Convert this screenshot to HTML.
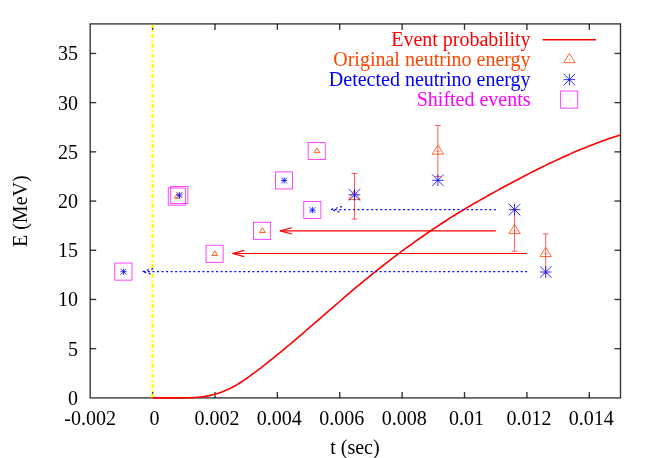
<!DOCTYPE html>
<html><head><meta charset="utf-8"><title>plot</title>
<style>html,body{margin:0;padding:0;background:#fff;}body{width:654px;height:458px;overflow:hidden;font-family:"Liberation Serif",serif;}</style>
</head><body>
<svg width="654" height="458" viewBox="0 0 654 458" style="display:block;will-change:transform">
<rect width="654" height="458" fill="#fff"/>
<g stroke="#000" stroke-width="1.4" fill="none" stroke-opacity="0.78">
<rect x="90.2" y="23.9" width="530.3" height="374.0"/>
<line x1="90.2" y1="348.69" x2="96.2" y2="348.69"/>
<line x1="620.5" y1="348.69" x2="614.5" y2="348.69"/>
<line x1="90.2" y1="299.48" x2="96.2" y2="299.48"/>
<line x1="620.5" y1="299.48" x2="614.5" y2="299.48"/>
<line x1="90.2" y1="250.27" x2="96.2" y2="250.27"/>
<line x1="620.5" y1="250.27" x2="614.5" y2="250.27"/>
<line x1="90.2" y1="201.06" x2="96.2" y2="201.06"/>
<line x1="620.5" y1="201.06" x2="614.5" y2="201.06"/>
<line x1="90.2" y1="151.85" x2="96.2" y2="151.85"/>
<line x1="620.5" y1="151.85" x2="614.5" y2="151.85"/>
<line x1="90.2" y1="102.64" x2="96.2" y2="102.64"/>
<line x1="620.5" y1="102.64" x2="614.5" y2="102.64"/>
<line x1="90.2" y1="53.43" x2="96.2" y2="53.43"/>
<line x1="620.5" y1="53.43" x2="614.5" y2="53.43"/>
<line x1="152.59" y1="397.9" x2="152.59" y2="391.9"/>
<line x1="152.59" y1="23.9" x2="152.59" y2="29.9"/>
<line x1="214.98" y1="397.9" x2="214.98" y2="391.9"/>
<line x1="214.98" y1="23.9" x2="214.98" y2="29.9"/>
<line x1="277.36" y1="397.9" x2="277.36" y2="391.9"/>
<line x1="277.36" y1="23.9" x2="277.36" y2="29.9"/>
<line x1="339.75" y1="397.9" x2="339.75" y2="391.9"/>
<line x1="339.75" y1="23.9" x2="339.75" y2="29.9"/>
<line x1="402.14" y1="397.9" x2="402.14" y2="391.9"/>
<line x1="402.14" y1="23.9" x2="402.14" y2="29.9"/>
<line x1="464.53" y1="397.9" x2="464.53" y2="391.9"/>
<line x1="464.53" y1="23.9" x2="464.53" y2="29.9"/>
<line x1="526.92" y1="397.9" x2="526.92" y2="391.9"/>
<line x1="526.92" y1="23.9" x2="526.92" y2="29.9"/>
<line x1="589.31" y1="397.9" x2="589.31" y2="391.9"/>
<line x1="589.31" y1="23.9" x2="589.31" y2="29.9"/>
</g>
<line x1="152.64" y1="24.6" x2="152.64" y2="398.4" stroke="#ffff00" stroke-width="2.45" stroke-dasharray="4.0 2.7 1.2 2.1" stroke-dashoffset="0.8"/>
<g font-family="'Liberation Serif', serif" font-size="20" fill="#000">
<text x="77.9" y="404.90" text-anchor="end">0</text>
<text x="77.9" y="355.69" text-anchor="end">5</text>
<text x="77.9" y="306.48" text-anchor="end">10</text>
<text x="77.9" y="257.27" text-anchor="end">15</text>
<text x="77.9" y="208.06" text-anchor="end">20</text>
<text x="77.9" y="158.85" text-anchor="end">25</text>
<text x="77.9" y="109.64" text-anchor="end">30</text>
<text x="77.9" y="60.43" text-anchor="end">35</text>
<text x="90.20" y="424.5" text-anchor="middle">-0.002</text>
<text x="154.59" y="424.5" text-anchor="middle">0</text>
<text x="216.98" y="424.5" text-anchor="middle">0.002</text>
<text x="279.36" y="424.5" text-anchor="middle">0.004</text>
<text x="341.75" y="424.5" text-anchor="middle">0.006</text>
<text x="404.14" y="424.5" text-anchor="middle">0.008</text>
<text x="466.53" y="424.5" text-anchor="middle">0.01</text>
<text x="528.92" y="424.5" text-anchor="middle">0.012</text>
<text x="591.31" y="424.5" text-anchor="middle">0.014</text>
<text x="354.9" y="454.3" text-anchor="middle">t (sec)</text>
<text transform="translate(26.8,211.2) rotate(-90)" text-anchor="middle">E (MeV)</text>
<text x="530.6" y="46.4" text-anchor="end" fill="#ff0000">Event probability</text>
<text x="530.6" y="66.4" text-anchor="end" fill="#ff4500">Original neutrino energy</text>
<text x="530.6" y="86.4" text-anchor="end" fill="#0000ff">Detected neutrino energy</text>
<text x="530.6" y="106.4" text-anchor="end" fill="#ff00ff">Shifted events</text>
</g>
<line x1="542.6" y1="39.7" x2="596" y2="39.7" stroke="#ff0000" stroke-width="1.45"/>
<path d="M569.40,53.42 L563.70,62.65 L575.10,62.65 Z" stroke="#ff4500" stroke-width="0.8" fill="none"/><circle cx="569.40" cy="59.80" r="0.5" fill="#ff4500" fill-opacity="0.8"/>
<path d="M563.60,73.80 L575.20,85.40 M563.60,85.40 L575.20,73.80 M569.40,73.80 L569.40,85.40 M563.60,79.60 L575.20,79.60" stroke="#0000ff" stroke-width="0.8" fill="none"/>
<rect x="560.65" y="91.05" width="17.10" height="17.10" stroke="#ff00ff" stroke-width="0.85" fill="none" stroke-opacity="0.85"/><circle cx="569.20" cy="99.60" r="0.45" fill="#ff00ff" fill-opacity="0.7"/>
<path d="M152.40,397.90 L154.75,397.90 L157.10,397.90 L159.45,397.90 L161.81,397.90 L164.16,397.90 L166.51,397.90 L168.86,397.90 L171.21,397.90 L173.56,397.90 L175.91,397.90 L178.26,397.90 L180.62,397.90 L182.97,397.87 L185.32,397.84 L187.67,397.79 L190.02,397.72 L192.37,397.62 L194.72,397.48 L197.07,397.31 L199.43,397.10 L201.78,396.83 L204.13,396.50 L206.48,396.12 L208.83,395.67 L211.18,395.15 L213.53,394.57 L215.88,393.92 L218.24,393.20 L220.59,392.40 L222.94,391.53 L225.29,390.59 L227.64,389.57 L229.99,388.46 L232.34,387.28 L234.69,386.02 L237.05,384.67 L239.40,383.24 L241.75,381.73 L244.10,380.16 L246.45,378.53 L248.80,376.85 L251.15,375.13 L253.50,373.39 L255.86,371.62 L258.21,369.84 L260.56,368.04 L262.91,366.22 L265.26,364.38 L267.61,362.53 L269.96,360.66 L272.31,358.78 L274.67,356.89 L277.02,354.98 L279.37,353.05 L281.72,351.12 L284.07,349.17 L286.42,347.22 L288.77,345.25 L291.12,343.27 L293.48,341.29 L295.83,339.30 L298.18,337.30 L300.53,335.29 L302.88,333.27 L305.23,331.25 L307.58,329.23 L309.93,327.20 L312.29,325.17 L314.64,323.13 L316.99,321.10 L319.34,319.06 L321.69,317.02 L324.04,314.98 L326.39,312.93 L328.74,310.90 L331.10,308.86 L333.45,306.82 L335.80,304.79 L338.15,302.76 L340.50,300.74 L342.85,298.72 L345.20,296.70 L347.55,294.69 L349.91,292.69 L352.26,290.70 L354.61,288.71 L356.96,286.74 L359.31,284.77 L361.66,282.81 L364.01,280.87 L366.36,278.93 L368.72,277.01 L371.07,275.10 L373.42,273.20 L375.77,271.32 L378.12,269.45 L380.47,267.59 L382.82,265.74 L385.17,263.91 L387.53,262.09 L389.88,260.28 L392.23,258.48 L394.58,256.70 L396.93,254.93 L399.28,253.17 L401.63,251.43 L403.98,249.69 L406.34,247.97 L408.69,246.26 L411.04,244.56 L413.39,242.87 L415.74,241.20 L418.09,239.53 L420.44,237.88 L422.79,236.24 L425.15,234.61 L427.50,232.99 L429.85,231.38 L432.20,229.78 L434.55,228.20 L436.90,226.62 L439.25,225.06 L441.60,223.51 L443.96,221.97 L446.31,220.45 L448.66,218.94 L451.01,217.44 L453.36,215.96 L455.71,214.49 L458.06,213.04 L460.41,211.61 L462.77,210.19 L465.12,208.78 L467.47,207.39 L469.82,206.00 L472.17,204.63 L474.52,203.27 L476.87,201.93 L479.22,200.59 L481.58,199.25 L483.93,197.93 L486.28,196.62 L488.63,195.31 L490.98,194.00 L493.33,192.70 L495.68,191.41 L498.03,190.11 L500.39,188.83 L502.74,187.55 L505.09,186.27 L507.44,185.00 L509.79,183.74 L512.14,182.48 L514.49,181.23 L516.84,179.98 L519.20,178.74 L521.55,177.51 L523.90,176.29 L526.25,175.07 L528.60,173.86 L530.95,172.65 L533.30,171.46 L535.65,170.27 L538.01,169.10 L540.36,167.93 L542.71,166.77 L545.06,165.62 L547.41,164.48 L549.76,163.34 L552.11,162.22 L554.46,161.11 L556.82,160.01 L559.17,158.92 L561.52,157.84 L563.87,156.77 L566.22,155.71 L568.57,154.66 L570.92,153.63 L573.27,152.60 L575.63,151.59 L577.98,150.60 L580.33,149.61 L582.68,148.64 L585.03,147.68 L587.38,146.73 L589.73,145.80 L592.08,144.88 L594.44,143.97 L596.79,143.08 L599.14,142.20 L601.49,141.34 L603.84,140.49 L606.19,139.66 L608.54,138.84 L610.89,138.04 L613.25,137.26 L615.60,136.49 L617.95,135.74 L620.30,135.00" stroke="#ff0000" stroke-width="1.62" fill="none" stroke-linejoin="round"/>
<path d="M495.80,230.90 L280.20,230.90" stroke="#ff0000" stroke-width="1.15" fill="none"/><path d="M291.90,227.80 L280.20,230.90 L291.90,234.00" stroke="#ff0000" stroke-width="1.15" fill="none" stroke-linejoin="round"/>
<path d="M526.90,253.50 L232.50,253.50" stroke="#ff0000" stroke-width="1.15" fill="none"/><path d="M244.20,250.40 L232.50,253.50 L244.20,256.60" stroke="#ff0000" stroke-width="1.15" fill="none" stroke-linejoin="round"/>
<path d="M495.85,209.55 L331.05,209.55" stroke="#0000ff" stroke-width="1.25" fill="none" stroke-dasharray="1.95 2.595" stroke-dashoffset="0"/><path d="M342.05,206.55 L331.05,209.55 L342.05,212.55" stroke="#0000ff" stroke-width="1.25" fill="none" stroke-dasharray="1.95 2.595"/>
<path d="M527.10,271.60 L142.20,271.60" stroke="#0000ff" stroke-width="1.25" fill="none" stroke-dasharray="1.95 2.595" stroke-dashoffset="0"/><path d="M153.20,268.60 L142.20,271.60 L153.20,274.60" stroke="#0000ff" stroke-width="1.25" fill="none" stroke-dasharray="1.95 2.595"/>
<rect x="168.25" y="188.05" width="17.10" height="17.10" stroke="#ff00ff" stroke-width="0.85" fill="none" stroke-opacity="0.85"/>
<path d="M177.05,193.60 L174.15,198.30 L179.95,198.30 Z" stroke="#ff4500" stroke-width="0.85" fill="none"/><circle cx="177.05" cy="196.80" r="0.45" fill="#ff4500" fill-opacity="0.35"/>
<rect x="170.75" y="186.45" width="17.10" height="17.10" stroke="#ff00ff" stroke-width="0.85" fill="none" stroke-opacity="0.85"/>
<path d="M176.55,192.20 L182.35,198.00 M176.55,198.00 L182.35,192.20 M179.45,192.00 L179.45,198.20 M176.35,195.10 L182.55,195.10" stroke="#0000ff" stroke-width="0.8" fill="none"/>
<rect x="114.85" y="263.05" width="17.10" height="17.10" stroke="#ff00ff" stroke-width="0.85" fill="none" stroke-opacity="0.85"/>
<path d="M120.65,268.80 L126.45,274.60 M120.65,274.60 L126.45,268.80 M123.55,268.60 L123.55,274.80 M120.45,271.70 L126.65,271.70" stroke="#0000ff" stroke-width="0.8" fill="none"/>
<rect x="206.05" y="245.25" width="17.10" height="17.10" stroke="#ff00ff" stroke-width="0.85" fill="none" stroke-opacity="0.85"/>
<path d="M214.85,250.80 L211.95,255.50 L217.75,255.50 Z" stroke="#ff4500" stroke-width="0.85" fill="none"/><circle cx="214.85" cy="254.00" r="0.45" fill="#ff4500" fill-opacity="0.35"/>
<rect x="253.55" y="222.25" width="17.10" height="17.10" stroke="#ff00ff" stroke-width="0.85" fill="none" stroke-opacity="0.85"/>
<path d="M262.35,227.80 L259.45,232.50 L265.25,232.50 Z" stroke="#ff4500" stroke-width="0.85" fill="none"/><circle cx="262.35" cy="231.00" r="0.45" fill="#ff4500" fill-opacity="0.35"/>
<rect x="275.45" y="171.85" width="17.10" height="17.10" stroke="#ff00ff" stroke-width="0.85" fill="none" stroke-opacity="0.85"/>
<path d="M281.25,177.60 L287.05,183.40 M281.25,183.40 L287.05,177.60 M284.15,177.40 L284.15,183.60 M281.05,180.50 L287.25,180.50" stroke="#0000ff" stroke-width="0.8" fill="none"/>
<rect x="303.75" y="201.45" width="17.10" height="17.10" stroke="#ff00ff" stroke-width="0.85" fill="none" stroke-opacity="0.85"/>
<path d="M309.55,207.20 L315.35,213.00 M309.55,213.00 L315.35,207.20 M312.45,207.00 L312.45,213.20 M309.35,210.10 L315.55,210.10" stroke="#0000ff" stroke-width="0.8" fill="none"/>
<rect x="308.15" y="142.45" width="17.10" height="17.10" stroke="#ff00ff" stroke-width="0.85" fill="none" stroke-opacity="0.85"/>
<path d="M316.95,148.00 L314.05,152.70 L319.85,152.70 Z" stroke="#ff4500" stroke-width="0.85" fill="none"/><circle cx="316.95" cy="151.20" r="0.45" fill="#ff4500" fill-opacity="0.35"/>
<path d="M354.50,219.10 L354.50,173.40 M351.55,219.10 L357.45,219.10 M351.55,173.40 L357.45,173.40" stroke="#ff0000" stroke-width="0.8" fill="none" stroke-opacity="0.8"/><path d="M351.80,196.70 L357.20,196.70" stroke="#ff0000" stroke-width="0.8" fill="none" stroke-opacity="0.4"/>
<path d="M437.90,176.60 L437.90,125.40 M434.95,176.60 L440.85,176.60 M434.95,125.40 L440.85,125.40" stroke="#ff0000" stroke-width="0.8" fill="none" stroke-opacity="0.8"/><path d="M435.20,151.30 L440.60,151.30" stroke="#ff0000" stroke-width="0.8" fill="none" stroke-opacity="0.4"/>
<path d="M514.60,251.20 L514.60,209.60 M511.65,251.20 L517.55,251.20 M511.65,209.60 L517.55,209.60" stroke="#ff0000" stroke-width="0.8" fill="none" stroke-opacity="0.8"/><path d="M511.90,230.80 L517.30,230.80" stroke="#ff0000" stroke-width="0.8" fill="none" stroke-opacity="0.4"/>
<path d="M545.70,273.30 L545.70,234.00 M542.75,273.30 L548.65,273.30 M542.75,234.00 L548.65,234.00" stroke="#ff0000" stroke-width="0.8" fill="none" stroke-opacity="0.8"/><path d="M543.00,253.70 L548.40,253.70" stroke="#ff0000" stroke-width="0.8" fill="none" stroke-opacity="0.4"/>
<path d="M354.50,190.32 L348.80,199.55 L360.20,199.55 Z" stroke="#ff4500" stroke-width="0.8" fill="none"/><circle cx="354.50" cy="196.70" r="0.5" fill="#ff4500" fill-opacity="0.8"/>
<path d="M437.90,144.92 L432.20,154.15 L443.60,154.15 Z" stroke="#ff4500" stroke-width="0.8" fill="none"/><circle cx="437.90" cy="151.30" r="0.5" fill="#ff4500" fill-opacity="0.8"/>
<path d="M514.60,224.42 L508.90,233.65 L520.30,233.65 Z" stroke="#ff4500" stroke-width="0.8" fill="none"/><circle cx="514.60" cy="230.80" r="0.5" fill="#ff4500" fill-opacity="0.8"/>
<path d="M545.70,247.32 L540.00,256.55 L551.40,256.55 Z" stroke="#ff4500" stroke-width="0.8" fill="none"/><circle cx="545.70" cy="253.70" r="0.5" fill="#ff4500" fill-opacity="0.8"/>
<path d="M348.70,189.00 L360.30,200.60 M348.70,200.60 L360.30,189.00 M354.50,189.00 L354.50,200.60 M348.70,194.80 L360.30,194.80" stroke="#0000ff" stroke-width="0.8" fill="none"/>
<path d="M432.10,174.50 L443.70,186.10 M432.10,186.10 L443.70,174.50 M437.90,174.50 L437.90,186.10 M432.10,180.30 L443.70,180.30" stroke="#0000ff" stroke-width="0.8" fill="none"/>
<path d="M508.80,203.80 L520.40,215.40 M508.80,215.40 L520.40,203.80 M514.60,203.80 L514.60,215.40 M508.80,209.60 L520.40,209.60" stroke="#0000ff" stroke-width="0.8" fill="none"/>
<path d="M539.90,266.20 L551.50,277.80 M539.90,277.80 L551.50,266.20 M545.70,266.20 L545.70,277.80 M539.90,272.00 L551.50,272.00" stroke="#0000ff" stroke-width="0.8" fill="none"/>
</svg>
</body></html>
